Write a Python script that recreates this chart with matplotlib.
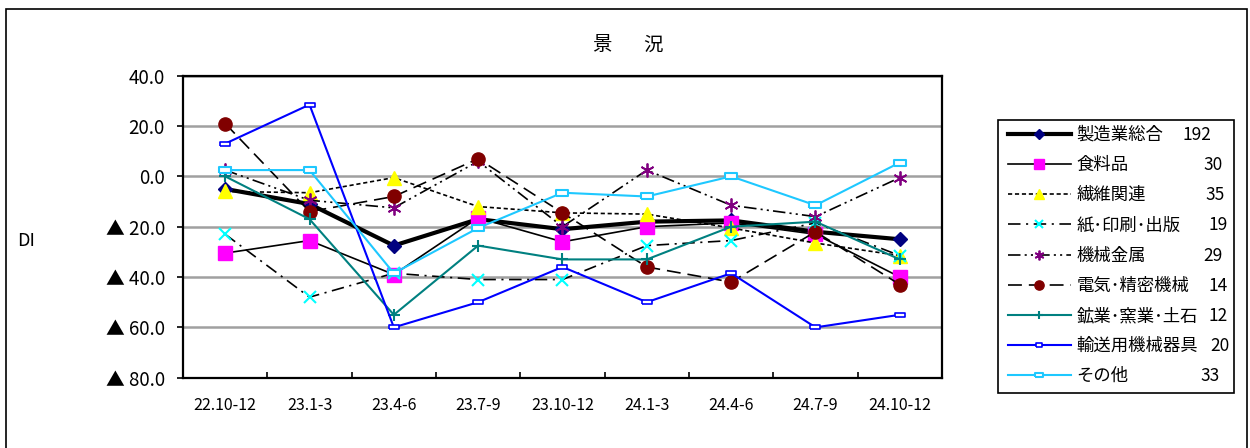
import numpy as np
import matplotlib
matplotlib.use("Agg")
import matplotlib.pyplot as plt
from matplotlib.patches import Rectangle
from matplotlib.lines import Line2D

plt.rcParams['font.family'] = ['Noto Sans CJK JP', 'DejaVu Sans']
plt.rcParams['lines.scale_dashes'] = False

# data
periods = ['22.10-12', '23.1-3', '23.4-6', '23.7-9', '23.10-12',
           '24.1-3', '24.4-6', '24.7-9', '24.10-12']
names = ['製造業総合', '食料品', '繊維関連', '紙･印刷･出版', '機械金属',
         '電気･精密機械', '鉱業･窯業･土石', '輸送用機械器具', 'その他']
counts = ['192', '30', '35', '19', '29', '14', '12', '20', '33']

seizo = [-5, -11, -27.5, -17, -21, -18, -17.5, -22, -25]
shokuryo = [-30.5, -25.5, -39, -16.5, -26, -20, -18.5, -23, -40]
seni = [-6, -6.5, -0.5, -12, -14.5, -15, -20.5, -26.5, -31.5]
kami = [-23, -48, -38.5, -41, -41, -27.5, -25.5, -18.5, -31.5]
kikai = [2.5, -9.5, -12.5, 6, -20, 2.5, -11.5, -16, -0.5]
denki = [21, -14, -8, 7, -14.5, -36, -42, -22, -43]
kogyo = [0, -17, -55, -27.5, -33, -33, -20, -18, -33]
yuso = [13, 28.5, -60, -50, -36, -50, -38.5, -60, -55]
sonota = [2.5, 2.5, -38.5, -20.5, -6.5, -8, 0, -11.5, 5.5]

series = [seizo, shokuryo, seni, kami, kikai, denki, kogyo, yuso, sonota]

rect = [(-1, -0.5), (1, -0.5), (1, 0.5), (-1, 0.5), (-1, -0.5)]
styles = [
    dict(color='black', lw=3, marker='D', ms=7, mfc='#000080', mec='#000080'),
    dict(color='black', lw=1.2, marker='s', ms=9.5, mfc='#FF00FF', mec='#FF00FF'),
    dict(color='black', lw=1.2, dashes=(3, 2), marker='^', ms=10, mfc='#FFFF00', mec='#FFFF00'),
    dict(color='black', lw=1.2, dashes=(9, 4, 1.5, 4), marker='x', ms=9, mec='#00FFFF', mew=1.5),
    dict(color='black', lw=1.2, dashes=(9, 3, 1.5, 3, 1.5, 3), marker=(6, 2, 0), ms=10, mec='#800080', mew=1.3),
    dict(color='black', lw=1.2, dashes=(10, 5), marker='o', ms=9.5, mfc='#800000', mec='#800000'),
    dict(color='#008080', lw=1.5, marker='+', ms=9, mew=1.5),
    dict(color='#0000FF', lw=1.5, marker=rect, ms=7, mfc='white', mec='#0000FF', mew=1.2),
    dict(color='#1EC8FF', lw=1.5, marker=rect, ms=9, mfc='white', mec='#1EC8FF', mew=1.5),
]

W, H = 1250, 448
fig = plt.figure(figsize=(W / 100, H / 100), dpi=100)
ax = fig.add_axes([183 / W, 1 - 377.7 / H, (942 - 183) / W, (377.7 - 75.7) / H])

x = np.arange(len(periods))
handles = []
for name, vals, st in zip(names, series, styles):
    ax.plot(x, vals, label=name, clip_on=False, **st)
    # smaller markers in the legend, like the original
    hs = dict(st)
    hs['ms'] = st['ms'] * 0.7
    handles.append(Line2D([], [], **hs))

ax.set_xlim(-0.5, len(periods) - 0.5)
ax.set_ylim(-80, 40)
yt = np.arange(-80, 41, 20)
ax.set_yticks(yt)
ax.set_yticklabels([f'{v:.1f}' if v >= 0 else f'▲ {-v:.1f}' for v in yt], fontsize=13.5)
ax.set_xticks(x)
ax.set_xticklabels(periods, fontsize=11.5)
ax.set_xticks(np.arange(-0.5, len(periods), 1), minor=True)
ax.tick_params(axis='x', which='major', length=0, pad=14)
ax.tick_params(axis='x', which='minor', direction='in', length=4, width=1.2)
ax.tick_params(axis='y', direction='out', length=4, width=1.2, pad=9)
ax.yaxis.grid(True, color='#A0A0A0', lw=1.8)
ax.set_axisbelow(True)
for sp in ax.spines.values():
    sp.set_linewidth(1.6)
    sp.set_color('black')

fig.text(602 / W, 1 - 45 / H, '景', ha='center', va='center', fontsize=14)
fig.text(653 / W, 1 - 45 / H, '況', ha='center', va='center', fontsize=14)
fig.text(26 / W, 1 - 241 / H, 'DI', ha='center', va='center', fontsize=13)

# outer border
fig.patches.append(Rectangle((6 / W, -0.05), (1247 - 6) / W, 1.05 - 9 / H,
                             transform=fig.transFigure, fill=False, lw=1.2, ec='black'))

# legend
leg = fig.legend(handles=handles, labels=names, loc='upper left',
                 bbox_to_anchor=(1008 / W, 1 - 126 / H), bbox_transform=fig.transFigure,
                 frameon=False, fontsize=12.5, handlelength=3.6, handletextpad=0.35,
                 borderpad=0, borderaxespad=0, labelspacing=0.70)
fig.patches.append(Rectangle((998 / W, 1 - 392.7 / H), (1234 - 998) / W, (392.7 - 120) / H,
                             transform=fig.transFigure, fill=False, lw=1.2, ec='black'))

num_x = [1183, 1203, 1205, 1208, 1203, 1209, 1208, 1210, 1200]
fig.canvas.draw()
for t, c, nx in zip(leg.get_texts(), counts, num_x):
    bb = t.get_window_extent()
    yc = (bb.y0 + bb.y1) / 2 / fig.bbox.height
    fig.text(nx / W, yc, c, ha='left', va='center', fontsize=12.5)

fig.savefig('out.png', dpi=100)
